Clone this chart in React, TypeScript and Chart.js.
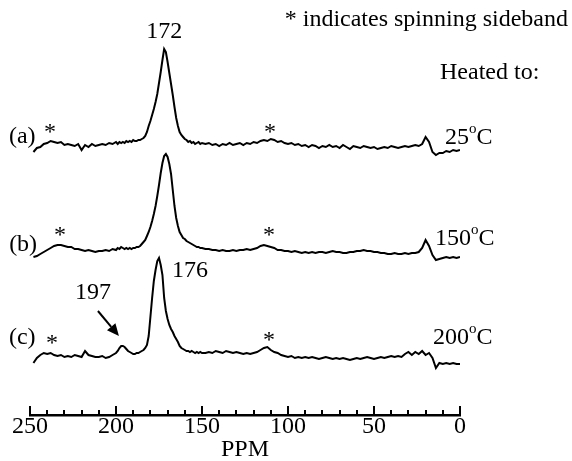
import React, { useEffect, useRef } from "react";
import { Chart, registerables } from "chart.js";

Chart.register(...registerables);

// Chemical shift grid (ppm)
const PPM = [
  248, 246, 244, 242, 240, 238, 236, 234, 232, 230, 228, 226, 224, 222, 220, 218, 216, 214, 212, 210, 208, 206, 204, 202, 200,
  199, 198, 197, 196, 195, 194, 193, 192, 191, 190, 189, 188, 187, 186, 185, 184, 183, 182, 181, 180,
  179, 178, 177, 176, 175, 174, 173, 172, 171, 170, 169, 168, 167, 166, 165, 164, 163, 162, 161, 160,
  159, 158, 157, 156, 155, 154, 153, 152, 151, 150,
  148, 146, 144, 142, 140, 138, 136, 134, 132, 130, 128, 126, 124, 122, 120, 118, 116, 114, 112, 110,
  108, 106, 104, 102, 100, 98, 96, 94, 92, 90, 88, 86, 84, 82, 80, 78, 76, 74, 72, 70,
  68, 66, 64, 62, 60, 58, 56, 54, 52, 50, 48, 46, 44, 42, 40, 38, 36, 34, 32, 30,
  28, 26, 24, 22, 20, 18, 16, 14, 12, 10, 8, 6, 4, 2, 0,
];

// (a) heated to 25 °C
const TRACE_A = [
  -6, -2, -1, 2, 3, 5, 4, 3, 4, 1, 2, 1, 0, 2, -4, 1, -1, 2, 0, 1, 2, 1, 3, 2, 4,
  2, 4, 3, 4, 3, 5, 4, 5, 4, 6, 5, 5, 6, 6, 7, 8, 10, 14, 20, 25,
  31, 37, 44, 52, 63, 74, 86, 97, 94, 84, 73, 62, 51, 39, 28, 20, 14, 11, 9, 7,
  6, 4, 5, 3, 4, 2, 3, 4, 2, 3,
  2, 3, 1, 2, 0, 2, 1, 3, 1, 2, 3, 1, 3, 2, 4, 3, 5, 6, 5, 7,
  6, 4, 5, 3, 2, 3, 1, 2, 0, 1, -1, 1, 0, -2, 0, -1, 1, -1, 0, -2,
  1, -1, -3, 0, -1, -2, 0, -1, -2, -1, -3, -2, -1, -2, 0, -1, -2, -1, 0, -1,
  0, 1, 0, 2, 9, 4, -6, -9, -7, -7, -5, -6, -4, -5, -4,
];

// (b) heated to 150 °C
const TRACE_B = [
  -5, -4, -2, 0, 2, 4, 6, 7, 7, 6, 5, 5, 3, 3, 2, 1, 2, 1, 0, 1, 1, 2, 1, 3, 2,
  4, 3, 5, 4, 3, 4, 3, 4, 3, 4, 4, 5, 5, 6, 8, 10, 12, 16, 20, 25,
  31, 38, 46, 56, 67, 79, 89, 96, 98, 95, 88, 78, 62, 46, 34, 26, 20, 17, 14, 13,
  11, 10, 9, 8, 7, 6, 5, 5, 4, 4,
  3, 3, 2, 2, 1, 2, 1, 1, 2, 1, 2, 2, 3, 2, 3, 4, 6, 7, 6, 5,
  4, 2, 2, 1, 1, 0, 1, 0, -1, 0, -1, 0, -1, 0, 0, -1, 0, 1, 0, 0,
  -1, -1, 0, 0, 1, 1, 2, 1, 1, 0, 0, -1, -1, -2, -2, -1, -2, -2, -1, -2,
  -1, -1, 0, 4, 12, 6, -3, -8, -7, -6, -5, -6, -5, -6, -5,
];

// (c) heated to 200 °C
const TRACE_C = [
  -7, -2, 1, 3, 2, 3, 1, 0, 1, -1, 0, -1, 1, 0, -1, 5, 1, 0, -1, -1, 0, -2, -1, 1, 3,
  5, 8, 10, 10, 9, 7, 5, 4, 3, 2, 2, 3, 3, 4, 5, 6, 8, 11, 20, 39,
  58, 75, 86, 95, 98, 91, 81, 58, 45, 37, 31, 27, 24, 20, 17, 14, 10, 8, 7, 6,
  5, 5, 4, 5, 4, 3, 4, 3, 4, 3,
  3, 4, 3, 5, 4, 3, 5, 4, 3, 4, 3, 2, 3, 2, 3, 4, 6, 8, 9, 6,
  4, 3, 1, 0, -1, 0, -2, -1, -2, -1, -2, -1, -2, -3, -2, -1, -2, -3, -2, -3,
  -2, -3, -4, -3, -2, -3, -2, -1, -2, -3, -2, -1, -2, -1, 0, -1, 0, -1, 2, 4,
  1, 4, 2, 5, 1, 3, -2, -12, -7, -8, -7, -8, -7, -8, -8,
];

// vertical stacking offsets of the three spectra
const OFFSET_A = 269;
const OFFSET_B = 163;
const OFFSET_C = 59;

const X_MIN = 0;
const X_MAX = 250;
const X_LABEL_STEP = 50;
const X_TICK_MARKS = [0, 10, 20, 30, 40, 50, 60, 70, 80, 90, 100, 110, 120, 130, 140, 150, 160, 170, 180, 190, 200, 210, 220, 230, 240, 250];

const FONT = '"Liberation Serif", "Times New Roman", serif';
const FS = 24;

function toPoints(vals: number[], off: number) {
  return PPM.map((p, i) => ({ x: p, y: vals[i] + off }));
}

function txt(ctx: CanvasRenderingContext2D, s: string, x: number, y: number, align: CanvasTextAlign = "center", size = FS) {
  ctx.font = `${size}px ${FONT}`;
  ctx.textAlign = align;
  ctx.textBaseline = "middle";
  ctx.fillText(s, x, y);
}

function temp(ctx: CanvasRenderingContext2D, num: string, x: number, y: number) {
  ctx.textAlign = "left";
  ctx.textBaseline = "middle";
  ctx.font = `${FS}px ${FONT}`;
  ctx.fillText(num, x, y);
  let w = ctx.measureText(num).width;
  ctx.font = `15px ${FONT}`;
  ctx.fillText("o", x + w, y - 9);
  w += ctx.measureText("o").width;
  ctx.font = `${FS}px ${FONT}`;
  ctx.fillText("C", x + w, y);
}

const overlay = {
  id: "overlay",
  afterDraw(chart: any) {
    const { ctx, chartArea } = chart;
    const xs = chart.scales.x;
    const ys = chart.scales.y;
    const X = (v: number) => xs.getPixelForValue(v);
    const Y = (v: number) => ys.getPixelForValue(v);
    ctx.save();
    ctx.fillStyle = "#000";
    ctx.strokeStyle = "#000";

    // upward tick marks on the PPM axis
    ctx.lineWidth = 2;
    for (const v of X_TICK_MARKS) {
      const x = Math.round(X(v));
      const len = v % 50 === 0 ? 9 : 5;
      ctx.beginPath();
      ctx.moveTo(x, chartArea.bottom);
      ctx.lineTo(x, chartArea.bottom - len);
      ctx.stroke();
    }

    // trace labels
    txt(ctx, "(a)", X(254.5), Y(OFFSET_A + 9));
    txt(ctx, "(b)", X(254), Y(OFFSET_B + 7));
    txt(ctx, "(c)", X(254.5), Y(OFFSET_C + 18));

    // spinning sideband markers
    const star = (p: number, v: number) => txt(ctx, "*", X(p), Y(v) + 5.5);
    star(238.4, OFFSET_A + 19);
    star(110.5, OFFSET_A + 19);
    star(232.6, OFFSET_B + 22);
    star(111, OFFSET_B + 22);
    star(237.2, OFFSET_C + 18);
    star(111, OFFSET_C + 21);

    // peak labels
    txt(ctx, "172", X(172), Y(OFFSET_A + 114));
    txt(ctx, "176", X(157), Y(OFFSET_C + 85));
    txt(ctx, "197", X(213.4), Y(OFFSET_C + 63));

    // arrow to the 197 ppm shoulder
    const x1 = X(210.5), y1 = Y(OFFSET_C + 45);
    const x2 = X(198.3), y2 = Y(OFFSET_C + 20);
    const ang = Math.atan2(y2 - y1, x2 - x1);
    const hl = 12, hw = 5.5;
    const bx = x2 - hl * Math.cos(ang), by = y2 - hl * Math.sin(ang);
    ctx.lineWidth = 2;
    ctx.beginPath();
    ctx.moveTo(x1, y1);
    ctx.lineTo(bx, by);
    ctx.stroke();
    ctx.beginPath();
    ctx.moveTo(x2, y2);
    ctx.lineTo(bx + hw * Math.sin(ang), by - hw * Math.cos(ang));
    ctx.lineTo(bx - hw * Math.sin(ang), by + hw * Math.cos(ang));
    ctx.closePath();
    ctx.fill();

    // temperatures
    temp(ctx, "25", X(8.7), Y(OFFSET_A + 8));
    temp(ctx, "150", X(14.5), Y(OFFSET_B + 13));
    temp(ctx, "200", X(15.7), Y(OFFSET_C + 18));

    // headings
    txt(ctx, "* indicates spinning sideband", 568, 20, "right");
    txt(ctx, "Heated to:", 440, 73, "left");

    ctx.restore();
  },
};

export default function App() {
  const ref = useRef<HTMLCanvasElement | null>(null);
  useEffect(() => {
    if (!ref.current) return;
    const lineDs = (label: string, vals: number[], off: number) => ({
      label,
      data: toPoints(vals, off),
      borderColor: "#000",
      borderWidth: 2,
      pointRadius: 0,
      fill: false,
      tension: 0,
    });
    const chart = new Chart(ref.current, {
      type: "line",
      data: {
        datasets: [
          lineDs("(a) 25°C", TRACE_A, OFFSET_A),
          lineDs("(b) 150°C", TRACE_B, OFFSET_B),
          lineDs("(c) 200°C", TRACE_C, OFFSET_C),
        ],
      },
      options: {
        animation: false,
        responsive: false,
        devicePixelRatio: 1,
        layout: { padding: { left: 30, right: 112, top: 0, bottom: 0 } },
        plugins: { legend: { display: false }, tooltip: { enabled: false } },
        scales: {
          x: {
            type: "linear",
            min: X_MIN,
            max: X_MAX,
            reverse: true,
            ticks: {
              stepSize: X_LABEL_STEP,
              color: "#000",
              padding: 1,
              maxRotation: 0,
              font: { family: FONT, size: FS, lineHeight: 22 / 24 },
            },
            grid: { display: false, drawTicks: false },
            border: { display: true, color: "#000", width: 2.5 },
            title: {
              display: true,
              text: "PPM",
              color: "#000",
              padding: 0,
              font: { family: FONT, size: FS, lineHeight: 22 / 24 },
            },
          },
          y: { type: "linear", min: 0, max: 415, display: false },
        },
      },
      plugins: [overlay],
    });
    return () => chart.destroy();
  }, []);
  return (
    <div style={{ position: "absolute", left: 0, top: 0, width: 572, height: 461, background: "#fff" }}>
      <canvas ref={ref} width={572} height={461} />
    </div>
  );
}
